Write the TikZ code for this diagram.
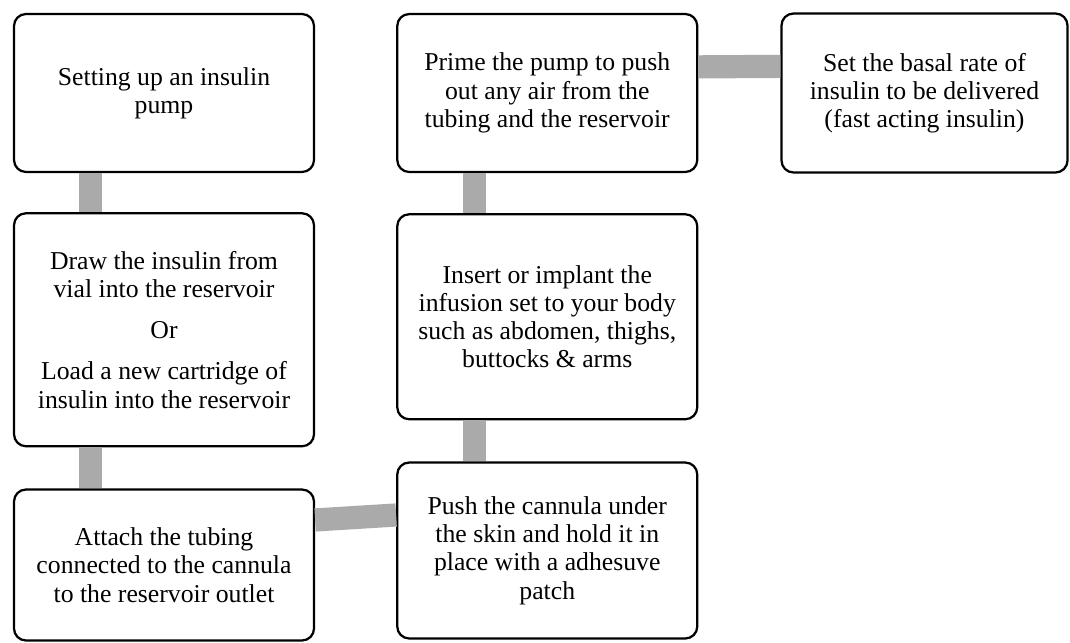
\documentclass[tikz,border=0pt]{standalone}
\usepackage{fontspec}
\setmainfont{Liberation Serif}
\usetikzlibrary{positioning}
\definecolor{linkgray}{RGB}{170,170,170}
\tikzset{
stepbox/.style={draw, line width=1.6pt, rounded corners=0.3cm, fill=white, align=center, minimum width=7.5cm, font=\fontsize{18.3}{20.1}\selectfont}, % the rounded boxes
link/.style={draw=linkgray, line width=0.58cm}, % the thick grey bars between boxes
node distance=1cm, % gap between two boxes
}
\begin{document}
\begin{tikzpicture}
                \useasboundingbox (0,0) rectangle (26.75,-16.075);
                \node[stepbox, minimum height=3.95cm] (setup) at (4.1,-2.325) {Setting up an insulin\\pump};
                \node[stepbox, minimum height=5.825cm, below=0.975cm of setup] (fill) {Draw the insulin from\\vial into the reservoir\\[0.32cm]Or\\[0.32cm]Load a new cartridge of\\insulin into the reservoir};
                \node[stepbox, minimum height=3.775cm, below=1.025cm of fill] (attach) {Attach the tubing\\connected to the cannula\\to the reservoir outlet};
                \node[stepbox, minimum height=3.95cm, right=2.025cm of setup] (prime) {Prime the pump to push\\out any air from the\\tubing and the reservoir};
                \node[stepbox, minimum height=5.125cm, below=1cm of prime] (insert) {Insert or implant the\\infusion set to your body\\such as abdomen, thighs,\\buttocks \& arms};
                \node[stepbox, minimum height=4.4cm, below=1.025cm of insert] (push) {Push the cannula under\\the skin and hold it in\\place with a adhesuve\\patch};
                \node[stepbox, minimum width=7.15cm, minimum height=3.975cm, right=2.05cm of prime] (basal) {Set the basal rate of\\insulin to be delivered\\(fast acting insulin)};

                \draw[link] ([xshift=1.95cm]setup.south west) -- ([xshift=1.95cm]fill.north west);
                \draw[link] ([xshift=1.95cm]fill.south west) -- ([xshift=1.95cm]attach.north west);
                \draw[link] ([yshift=-0.79cm]attach.north east) -- ([yshift=-1.34cm]push.north west);
                \draw[link] ([xshift=1.95cm]push.north west) -- ([xshift=1.95cm]insert.south west);
                \draw[link] ([xshift=1.95cm]insert.north west) -- ([xshift=1.95cm]prime.south west);
                \draw[link] ([yshift=-1.35cm]prime.north east) -- ([yshift=-1.35cm]basal.north west);
\end{tikzpicture}
\end{document}
